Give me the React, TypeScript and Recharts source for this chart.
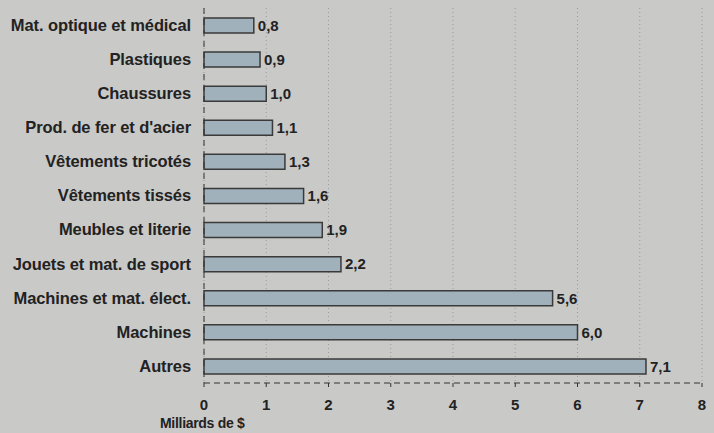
import { BarChart, Bar, XAxis, YAxis, CartesianGrid, LabelList } from "recharts";

const categories = [
  "Mat. optique et médical",
  "Plastiques",
  "Chaussures",
  "Prod. de fer et d'acier",
  "Vêtements tricotés",
  "Vêtements tissés",
  "Meubles et literie",
  "Jouets et mat. de sport",
  "Machines et mat. élect.",
  "Machines",
  "Autres",
];
const values = [0.8, 0.9, 1.0, 1.1, 1.3, 1.6, 1.9, 2.2, 5.6, 6.0, 7.1];
const xTicks = [0, 1, 2, 3, 4, 5, 6, 7, 8];

const data = categories.map((name, i) => ({ name, value: values[i] }));

const font = "'Liberation Sans', Arial, sans-serif";

export default function App() {
  return (
    <div
      style={{
        position: "absolute",
        left: 0,
        top: 0,
        width: 714,
        height: 433,
        background: "#c9c9c7",
        fontFamily: font,
      }}
    >
      <BarChart
        layout="vertical"
        width={714}
        height={433}
        data={data}
        margin={{ top: 8, right: 12, left: 0, bottom: 20 }}
        barCategoryGap={0}
      >
        <CartesianGrid horizontal={false} stroke="#9a9a9a" strokeDasharray="1 3" />
        <XAxis
          type="number"
          domain={[0, 8]}
          ticks={xTicks}
          height={30}
          axisLine={{ stroke: "#333", strokeDasharray: "6 4" }}
          tickLine={{ stroke: "#333" }}
          tickSize={4}
          tickMargin={12}
          tick={{ fill: "#222", fontSize: 15, fontWeight: 700, fontFamily: font }}
        />
        <YAxis
          type="category"
          dataKey="name"
          width={204}
          axisLine={{ stroke: "#333", strokeDasharray: "6 5" }}
          tickLine={false}
          tickMargin={7}
          tick={{ fill: "#222", fontSize: 16.5, fontWeight: 700, fontFamily: font, letterSpacing: -0.1 }}
        />
        <Bar
          dataKey="value"
          barSize={15}
          fill="#a0b1bb"
          stroke="#3a3a3a"
          strokeWidth={1.5}
          isAnimationActive={false}
        >
          <LabelList
            dataKey="value"
            position="right"
            offset={4}
            formatter={(v: any) => Number(v).toFixed(1).replace(".", ",")}
            style={{ fill: "#222", fontSize: 15, fontWeight: 700, fontFamily: font }}
          />
        </Bar>
        <text
          x={160}
          y={428}
          fill="#222"
          style={{ fontSize: 14, fontWeight: 700, fontFamily: font, letterSpacing: -0.3 }}
        >
          Milliards de $
        </text>
      </BarChart>
    </div>
  );
}
